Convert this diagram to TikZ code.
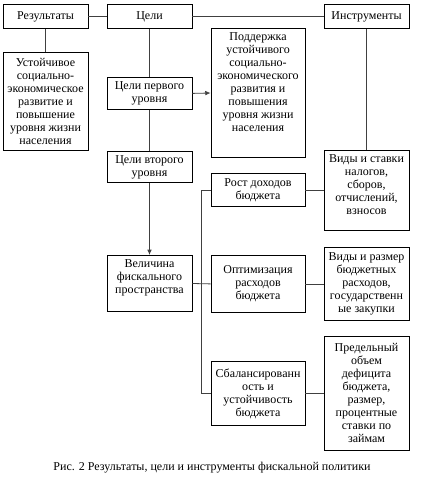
\documentclass[tikz,border=0pt]{standalone}
\usepackage{fontspec}
\setmainfont{Liberation Serif}
\usepackage{tikz}
\usetikzlibrary{arrows.meta,positioning}

\begin{document}
\begin{tikzpicture}[x=0.75pt,y=-0.75pt,
  cell/.style={draw=black, line width=0.6pt, anchor=north, align=center,
    inner xsep=2pt, inner ysep=3pt, minimum width=63.75pt,
    font=\fontsize{9}{9.75}\selectfont},
  wide/.style={minimum width=70.5pt},
  wire/.style={draw=black!75, line width=0.6pt},
  arr/.style={wire, -{Latex[length=4pt,width=3.5pt]}}]
  \useasboundingbox (0,0) rectangle (424,481);

  % left and middle column
  \node[cell, minimum height=18pt] (res) at (45.5,4) {Результаты};
  \node[cell, minimum height=18pt] (goals) at (149.5,4) {Цели};
  \node[cell, minimum height=18pt] (instr) at (366.5,4) {Инструменты};
  \node[cell, minimum height=73.5pt] (sust) at (45.5,52)
    {Устойчивое\\социально-\\экономическое\\развитие и\\повышение\\уровня жизни\\населения};
  \node[cell, minimum height=24pt] (goal1) at (149.5,77) {Цели первого\\уровня};
  \node[cell, minimum height=23.25pt] (goal2) at (149.5,151) {Цели второго\\уровня};
  \node[cell, text depth=10.75pt] (size) at (149.5,255)
    {Величина\\фискального\\пространства};

  % third column
  \node[cell, wide, text depth=16.75pt] (support) at (258,28)
    {Поддержка\\устойчивого\\социально-\\экономического\\развития и\\повышения\\уровня жизни\\населения};
  \node[cell, wide, minimum height=24.75pt] (growth) at (258,173) {Рост доходов\\бюджета};
  \node[cell, wide, minimum height=42.75pt] (optim) at (258,255)
    {Оптимизация\\расходов\\бюджета};
  \node[cell, wide, minimum height=48pt] (balance) at (258,361)
    {Сбалансированн\\ость и\\устойчивость\\бюджета};

  % instruments
  \node[cell, text depth=9.25pt] (taxes) at (366.5,150)
    {Виды и ставки\\налогов,\\сборов,\\отчислений,\\взносов};
  \node[cell, minimum height=54.75pt] (spend) at (366.5,247)
    {Виды и размер\\бюджетных\\расходов,\\государственн\\ые закупки};
  \node[cell, minimum height=85.5pt] (limit) at (366.5,336)
    {Предельный\\объем\\дефицита\\бюджета,\\размер,\\процентные\\ставки по\\займам};

  \coordinate (bus) at (201,393);

  \draw[wire] (res.east) -- (goals.west);
  \draw[wire] (goals.east) -- (instr.west);
  \draw[wire] (res.south) -- (sust.north);
  \draw[wire] (goals.south) -- (goal1.north);
  \draw[arr] (goal1.east) -- (support.west);
  \draw[wire] (goal1.south) -- (goal2.north);
  \draw[arr] (goal2.south) -- (size.north);
  \draw[wire] (instr.south) -- (taxes.north);
  \draw[wire] (growth.east) -- (growth.east -| taxes.west);
  \draw[wire] (optim.east) -- (spend.west);
  \draw[wire] (balance.east) -- (limit.west);
  \draw[wire] (size.east) -- (optim.west);
  \draw[wire] (growth.west) -| (bus |- balance.west) -- (balance.west);

  \node[font=\fontsize{9}{9.75}\selectfont] (caption) at (212,468)
    {Рис. 2 Результаты, цели и инструменты фискальной политики};
\end{tikzpicture}
\end{document}
